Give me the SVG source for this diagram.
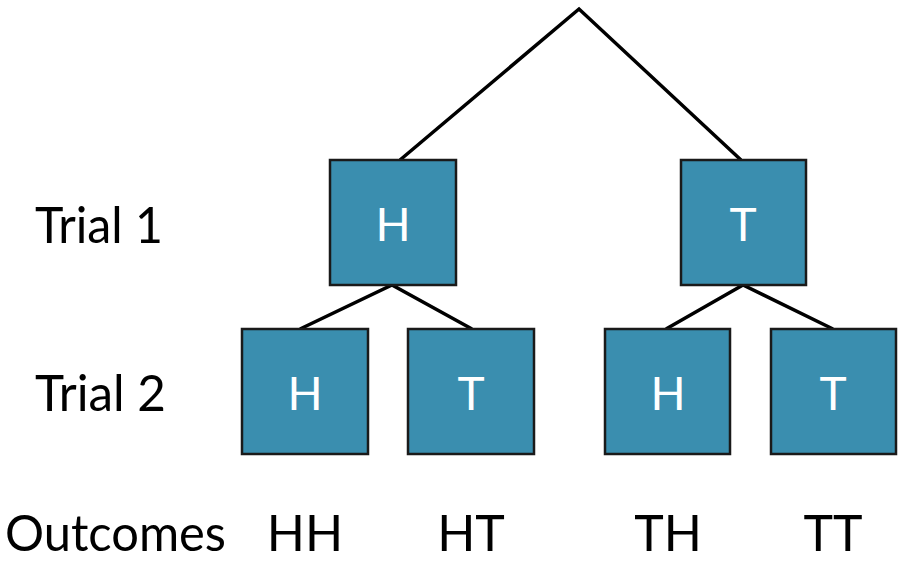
<svg xmlns="http://www.w3.org/2000/svg" width="912" height="564" viewBox="0 0 912 564">
<style>
.box{fill:#3A8EAF;stroke:#1a1a1a;stroke-width:2.5}
.lbl{fill:#fff;font-family:Lato,"Open Sans",sans-serif;font-size:46px;text-anchor:middle}
.txt{fill:#000;font-family:Lato,"Open Sans",sans-serif;font-size:50px}
.mid{text-anchor:middle}
.edge{stroke:#000;stroke-width:3.5;fill:none;stroke-linecap:butt}
</style>
<rect width="912" height="564" fill="#fff"/>
<g id="connectors">
<polyline class="edge" points="400,160 579,9 741,160"/>
<polyline class="edge" points="300,329 392,285 472,329"/>
<polyline class="edge" points="666,329 743,285 833,329"/>
</g>
<g id="t1h"><rect class="box" x="330" y="160" width="126" height="125"/><text class="lbl" x="393" y="241">H</text></g>
<g id="t1t"><rect class="box" x="681" y="160" width="125" height="125"/><text class="lbl" x="743" y="241">T</text></g>
<g id="t2hh"><rect class="box" x="242" y="329" width="126" height="125"/><text class="lbl" x="305" y="410">H</text></g>
<g id="t2ht"><rect class="box" x="408" y="329" width="126" height="125"/><text class="lbl" x="471" y="410">T</text></g>
<g id="t2th"><rect class="box" x="605" y="329" width="125" height="125"/><text class="lbl" x="668" y="410">H</text></g>
<g id="t2tt"><rect class="box" x="771" y="329" width="125" height="125"/><text class="lbl" x="833" y="410">T</text></g>
<g id="labels">
<text class="txt" x="35" y="243" textLength="128" lengthAdjust="spacingAndGlyphs">Trial 1</text>
<text class="txt" x="35" y="411" textLength="131" lengthAdjust="spacingAndGlyphs">Trial 2</text>
<text class="txt" x="5" y="551" textLength="221" lengthAdjust="spacingAndGlyphs">Outcomes</text>
<text class="txt mid" x="305" y="551">HH</text>
<text class="txt mid" x="471" y="551">HT</text>
<text class="txt mid" x="668" y="551">TH</text>
<text class="txt mid" x="833" y="551">TT</text>
</g>
</svg>
